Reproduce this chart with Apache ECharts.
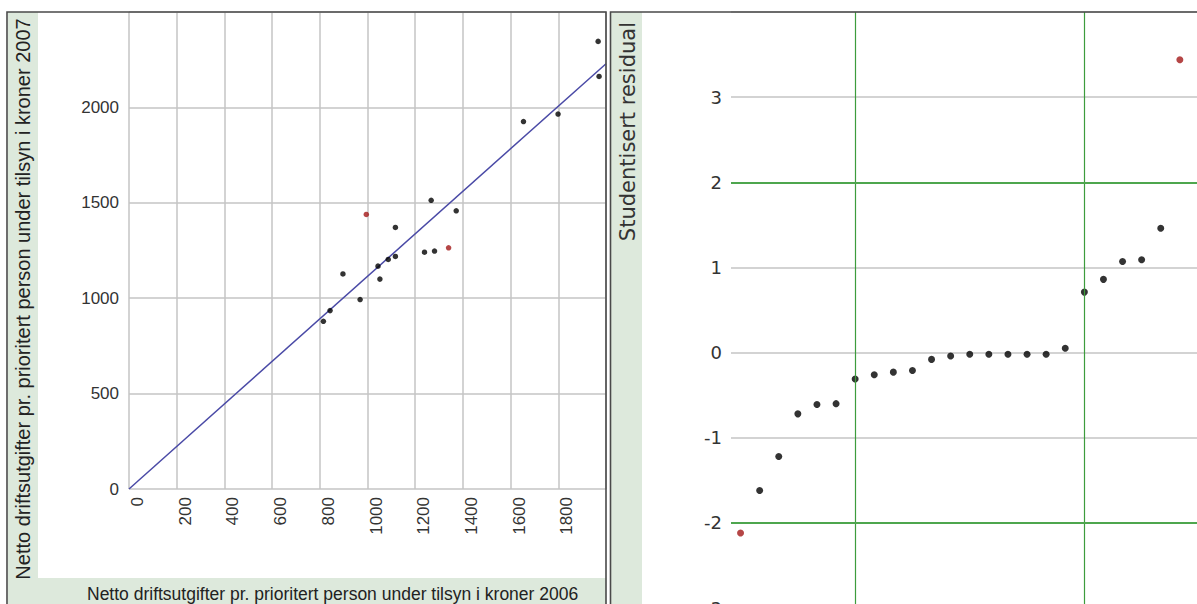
<!DOCTYPE html>
<html>
<head>
<meta charset="utf-8">
<script src="https://cdn.jsdelivr.net/npm/echarts@6/dist/echarts.min.js"></script>
<style>
html,body{margin:0;padding:0;background:#fff;}
#chart{width:1197px;height:604px;}
</style>
</head>
<body>
<div id="chart"></div>
<script>
// ---- Left panel: spending 2006 vs 2007 ----
const spend2006 = [815, 843, 897, 969, 995, 1044, 1052, 1087, 1117, 1117, 1239, 1267, 1281, 1340, 1372, 1654, 1799, 1967, 1971];
const spend2007 = [879, 935, 1127, 993, 1439, 1168, 1100, 1203, 1219, 1371, 1241, 1513, 1247, 1264, 1458, 1926, 1965, 2346, 2162];
const spendOutlier = [0, 0, 0, 0, 1, 0, 0, 0, 0, 0, 0, 0, 0, 1, 0, 0, 0, 0, 0];
const fitLineX = [0, 2000];
const fitLineY = [0, 2229];
const xTitleLeft = 'Netto driftsutgifter pr. prioritert person under tilsyn i kroner 2006';
const yTitleLeft = 'Netto driftsutgifter pr. prioritert person under tilsyn i kroner 2007';

// ---- Right panel: sorted studentized residuals ----
const residRank = [1, 2, 3, 4, 5, 6, 7, 8, 9, 10, 11, 12, 13, 14, 15, 16, 17, 18, 19, 20, 21, 22, 23, 24];
const residuals = [-2.12, -1.62, -1.22, -0.72, -0.61, -0.60, -0.31, -0.26, -0.23, -0.21, -0.08, -0.04, -0.02, -0.02, -0.02, -0.02, -0.02, 0.05, 0.71, 0.86, 1.07, 1.09, 1.46, 3.44];
const residOutlier = [1, 0, 0, 0, 0, 0, 0, 0, 0, 0, 0, 0, 0, 0, 0, 0, 0, 0, 0, 0, 0, 0, 0, 1];
const quartileRanks = [7, 19];
const residRefLines = [-2, 2];
const yTitleRight = 'Studentisert residual';

const RED = '#a31818', BLACK = '#000', GRAY = '#c4c4c4', GREEN = '#4ea64e', STRIP = '#dde9dc', BORDER = '#4a4a4a';

const leftPts = spend2006.map((x, i) => ({
  value: [x, spend2007[i]],
  itemStyle: { color: spendOutlier[i] ? RED : BLACK }
}));
const rightPts = residRank.map((r, i) => ({
  value: [r, residuals[i]],
  itemStyle: { color: residOutlier[i] ? RED : BLACK }
}));
const plain = v => String(v);

const chart = echarts.init(document.getElementById('chart'), null, { renderer: 'svg' });
chart.setOption({
  animation: false,
  backgroundColor: '#fff',
  graphic: [
    { type: 'rect', z: -10, shape: { x: 8, y: 12, width: 30, height: 600 }, style: { fill: STRIP } },
    { type: 'rect', z: -10, shape: { x: 8, y: 578, width: 598, height: 30 }, style: { fill: STRIP } },
    { type: 'rect', z: -10, shape: { x: 611, y: 12, width: 31, height: 600 }, style: { fill: STRIP } },
    { type: 'rect', z: 100, shape: { x: 7, y: 12, width: 599, height: 620 }, style: { fill: 'none', stroke: BORDER, lineWidth: 1.6 } },
    { type: 'rect', z: 100, shape: { x: 610.5, y: 12, width: 620, height: 620 }, style: { fill: 'none', stroke: BORDER, lineWidth: 1.6 } },
    { type: 'text', z: 50, x: 87, y: 594, style: { text: xTitleLeft, fontFamily: 'Liberation Sans', fontSize: 17.5, fill: '#222', align: 'left', verticalAlign: 'middle' } },
    { type: 'text', z: 50, x: 23, y: 299, rotation: Math.PI / 2, style: { text: yTitleLeft, fontFamily: 'Liberation Sans', fontSize: 20, fill: '#222', align: 'center', verticalAlign: 'middle' } },
    { type: 'text', z: 50, x: 628, y: 22, rotation: Math.PI / 2, style: { text: yTitleRight, fontFamily: 'DejaVu Sans', fontSize: 21, fill: '#333', align: 'right', verticalAlign: 'middle' } }
  ],
  grid: [
    { left: 129, top: 12, width: 477, height: 477, containLabel: false, outerBoundsMode: 'none' },
    { left: 731, top: 12, width: 477.5, height: 596, containLabel: false, outerBoundsMode: 'none' }
  ],
  xAxis: [
    {
      gridIndex: 0, type: 'value', min: 0, max: 2000, interval: 200,
      axisLine: { show: false }, axisTick: { show: false },
      splitLine: { show: true, lineStyle: { color: GRAY, width: 1.5 } },
      axisLabel: { rotate: 90, margin: 8, verticalAlign: 'top', showMaxLabel: false, formatter: plain, fontFamily: 'Liberation Sans', fontSize: 17, color: '#333' }
    },
    {
      gridIndex: 1, type: 'value', min: 0.5, max: 25.5,
      axisLine: { show: false }, axisTick: { show: false }, axisLabel: { show: false }, splitLine: { show: false }
    }
  ],
  yAxis: [
    {
      gridIndex: 0, type: 'value', min: 0, max: 2500, interval: 500,
      axisLine: { show: false }, axisTick: { show: false },
      splitLine: { show: true, lineStyle: { color: GRAY, width: 1.5 } },
      axisLabel: { margin: 10, showMaxLabel: false, formatter: plain, padding: [0, 0, 10, 0], fontFamily: 'Liberation Sans', fontSize: 17, color: '#333' }
    },
    {
      gridIndex: 1, type: 'value', min: -3, max: 4, interval: 1,
      axisLine: { show: false }, axisTick: { show: false },
      splitLine: { show: true, lineStyle: { color: GRAY, width: 1.5 } },
      axisLabel: { margin: 9, showMaxLabel: false, formatter: plain, padding: [0, 0, 13, 0], fontFamily: 'DejaVu Sans', fontSize: 18, color: '#333' }
    }
  ],
  series: [
    {
      type: 'line', xAxisIndex: 0, yAxisIndex: 0,
      data: fitLineX.map((x, i) => [x, fitLineY[i]]),
      showSymbol: false, lineStyle: { color: '#4a4aa6', width: 1.5 }, z: 3, silent: true
    },
    {
      type: 'scatter', xAxisIndex: 0, yAxisIndex: 0,
      data: leftPts, symbolSize: 5.5, z: 4
    },
    {
      type: 'scatter', xAxisIndex: 1, yAxisIndex: 1,
      data: rightPts, symbolSize: 7, z: 4,
      markLine: {
        silent: true, symbol: 'none', label: { show: false },
        data: quartileRanks.map(r => ({ xAxis: r, lineStyle: { color: '#3d9c3d', width: 1.2, type: 'solid' } }))
          .concat(residRefLines.map(v => ({ yAxis: v, lineStyle: { color: GREEN, width: 1.8, type: 'solid' } })))
      }
    }
  ]
});
</script>
</body>
</html>
